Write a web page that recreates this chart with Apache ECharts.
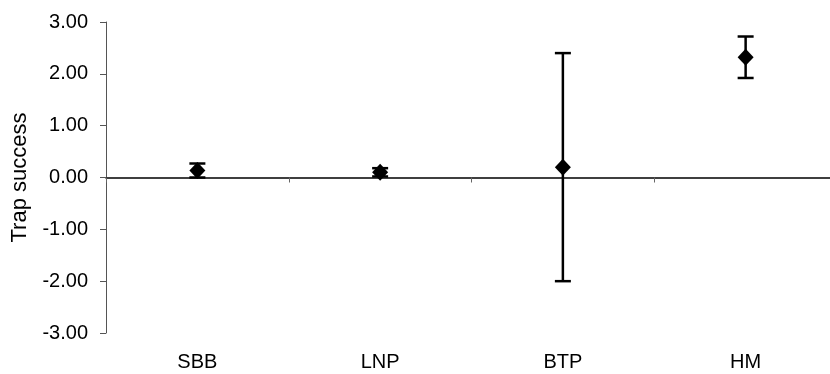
<!DOCTYPE html>
<html>
<head>
<meta charset="utf-8">
<script src="https://cdn.jsdelivr.net/npm/echarts@6/dist/echarts.min.js"></script>
<style>
  html, body { margin: 0; padding: 0; background: #fff; overflow: hidden; }
  /* the zero line runs slightly past the right edge of the page */
  #chart { width: 838px; height: 374px; }
</style>
</head>
<body>
<div id="chart"></div>
<script>
// Sites and their mean trap success with ± error
const categories = ['SBB', 'LNP', 'BTP', 'HM'];
const means = [0.135, 0.10, 0.20, 2.32];
const errors = [0.135, 0.08, 2.20, 0.40];
const yTicks = [-3, -2, -1, 0, 1, 2, 3];

const FONT = '"Liberation Sans", Arial, sans-serif';

const errorData = categories.map((c, i) => [i, means[i] - errors[i], means[i] + errors[i]]);
const pointData = categories.map((c, i) => [i, means[i]]);

const chart = echarts.init(document.getElementById('chart'), null, { renderer: 'canvas' });

chart.setOption({
  animation: false,
  backgroundColor: '#ffffff',
  grid: { left: 106, top: 22, right: 1, bottom: 41, containLabel: false },
  xAxis: [
    {
      type: 'category',
      data: categories,
      boundaryGap: true,
      axisLine: { onZero: true, lineStyle: { color: '#000', width: 1.5 } },
      axisTick: { show: true, length: 5, lineStyle: { color: '#666', width: 1 } },
      axisLabel: { show: false },
      splitLine: { show: false }
    },
    {
      type: 'category',
      data: categories,
      position: 'bottom',
      boundaryGap: true,
      axisLine: { show: false, onZero: false },
      axisTick: { show: false },
      axisLabel: { show: true, margin: 19, color: '#000', fontFamily: FONT, fontSize: 20 },
      splitLine: { show: false }
    }
  ],
  yAxis: {
    type: 'value',
    min: yTicks[0],
    max: yTicks[yTicks.length - 1],
    interval: 1,
    name: 'Trap success',
    nameLocation: 'middle',
    nameGap: 75,
    nameTextStyle: { color: '#000', fontFamily: FONT, fontSize: 22 },
    axisLine: { show: true, lineStyle: { color: '#555', width: 1 } },
    axisTick: { show: true, length: 6, lineStyle: { color: '#555', width: 1 } },
    axisLabel: {
      margin: 18, color: '#000', fontFamily: FONT, fontSize: 20,
      formatter: v => v.toFixed(2)
    },
    splitLine: { show: false }
  },
  series: [
    {
      type: 'custom',
      xAxisIndex: 0,
      data: errorData,
      z: 2,
      renderItem: function (params, api) {
        const x = api.value(0);
        const lo = api.coord([x, api.value(1)]);
        const hi = api.coord([x, api.value(2)]);
        const half = 8;
        const style = { stroke: '#000', lineWidth: 2.5 };
        return {
          type: 'group',
          children: [
            { type: 'line', shape: { x1: lo[0], y1: lo[1], x2: hi[0], y2: hi[1] }, style },
            { type: 'line', shape: { x1: hi[0] - half, y1: hi[1], x2: hi[0] + half, y2: hi[1] }, style },
            { type: 'line', shape: { x1: lo[0] - half, y1: lo[1], x2: lo[0] + half, y2: lo[1] }, style }
          ]
        };
      }
    },
    {
      type: 'scatter',
      xAxisIndex: 0,
      data: pointData,
      symbol: 'diamond',
      symbolSize: [16, 17],
      itemStyle: { color: '#000', opacity: 1 },
      z: 3
    }
  ]
});
</script>
</body>
</html>
